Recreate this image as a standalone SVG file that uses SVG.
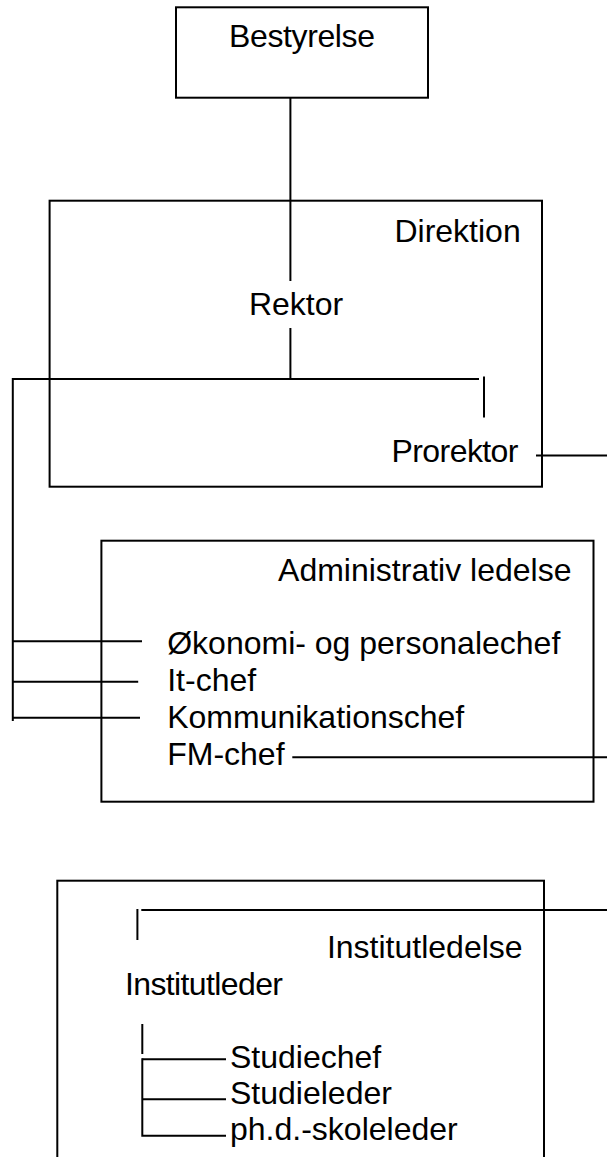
<svg xmlns="http://www.w3.org/2000/svg" width="607" height="1157" viewBox="0 0 607 1157">
<style>
.box{fill:none;stroke:#000;stroke-width:2}
.ln{fill:none;stroke:#000;stroke-width:2}
text{font-family:"Liberation Sans",Arial,sans-serif;font-size:32px;fill:#000}
.e{text-anchor:end}
.m{text-anchor:middle}
</style>
<rect width="607" height="1157" fill="#fff"/>
<g id="connectors">
<line class="ln" x1="290.4" y1="98" x2="290.4" y2="281"/>
<line class="ln" x1="290.4" y1="328" x2="290.4" y2="379"/>
<line class="ln" x1="12.8" y1="379" x2="479" y2="379"/>
<line class="ln" x1="484" y1="376.5" x2="484" y2="417.5"/>
<line class="ln" x1="536" y1="455.5" x2="607" y2="455.5"/>
<line class="ln" x1="12.8" y1="378" x2="12.8" y2="721"/>
<line class="ln" x1="12.8" y1="641.3" x2="142" y2="641.3"/>
<line class="ln" x1="12.8" y1="681.7" x2="138.2" y2="681.7"/>
<line class="ln" x1="12.8" y1="717.7" x2="140" y2="717.7"/>
<line class="ln" x1="292.3" y1="757.3" x2="607" y2="757.3"/>
<line class="ln" x1="141.3" y1="910" x2="607" y2="910"/>
<line class="ln" x1="137.4" y1="909" x2="137.4" y2="940"/>
<line class="ln" x1="142.3" y1="1024" x2="142.3" y2="1054"/>
<polyline class="ln" points="142.3,1058.3 142.3,1135.7 226,1135.7"/>
<line class="ln" x1="142.3" y1="1059.3" x2="226" y2="1059.3"/>
<line class="ln" x1="142.3" y1="1099.3" x2="226" y2="1099.3"/>
</g>
<g id="bestyrelse">
<rect class="box" x="176" y="7.3" width="252" height="90.4"/>
<text class="m" x="302" y="47" textLength="146">Bestyrelse</text>
</g>
<g id="direktion">
<rect class="box" x="49.6" y="200.7" width="492.4" height="286"/>
<text class="e" x="520.7" y="241.7">Direktion</text>
</g>
<g id="rektor">
<text class="m" x="296" y="315">Rektor</text>
</g>
<g id="prorektor">
<text class="e" x="518.5" y="462" textLength="127">Prorektor</text>
</g>
<g id="administrativ-ledelse">
<rect class="box" x="101.4" y="540.7" width="492.1" height="261"/>
<text class="e" x="571.5" y="581">Administrativ ledelse</text>
</g>
<g id="oekonomi">
<text x="167.2" y="654">Økonomi- og personalechef</text>
</g>
<g id="it-chef">
<text x="167.2" y="691">It-chef</text>
</g>
<g id="kommunikationschef">
<text x="167.2" y="727.5">Kommunikationschef</text>
</g>
<g id="fm-chef">
<text x="167.2" y="764.5">FM-chef</text>
</g>
<g id="institutledelse">
<rect class="box" x="57.3" y="880.7" width="486.7" height="300"/>
<text class="e" x="522.6" y="957.7">Institutledelse</text>
</g>
<g id="institutleder">
<text x="125" y="995" textLength="158">Institutleder</text>
</g>
<g id="studiechef">
<text x="230" y="1067.5">Studiechef</text>
</g>
<g id="studieleder">
<text x="230" y="1104">Studieleder</text>
</g>
<g id="phd-skoleleder">
<text x="230" y="1140">ph.d.-skoleleder</text>
</g>
</svg>
